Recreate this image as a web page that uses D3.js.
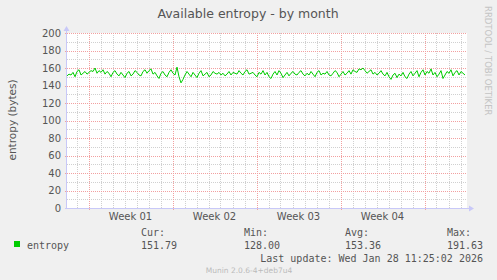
<!DOCTYPE html>
<html>
<head>
<meta charset="utf-8">
<script src="https://cdn.jsdelivr.net/npm/d3@7"></script>
<style>
  body { margin: 0; background: #f0f0f0; }
  svg { display: block; }
  text { font-family: "DejaVu Sans", sans-serif; fill: #555; }
  .mono { font-family: "DejaVu Sans Mono", monospace; font-size: 10px; fill: #555; }
</style>
</head>
<body>
<div id="chart"></div>
<script>
// entropy (bytes), 4 hour averages
var entropy = [
  151,153,152,155,150,156,158,152,154,156,153,155,157,156,160,154,157,155,158,153,
  156,154,150,155,157,153,151,155,152,149,154,156,151,153,157,155,152,151,156,158,
  154,157,159,153,155,151,148,154,156,152,150,155,158,154,152,161,150,143,147,152,
  156,153,150,155,152,149,154,157,151,153,155,150,152,156,154,153,155,152,154,151,
  153,156,152,155,154,153,157,154,152,156,158,153,154,155,152,150,155,153,157,152,
  155,150,148,153,156,152,157,154,149,152,155,151,154,156,153,152,155,157,153,151,
  154,152,156,153,150,155,157,152,154,153,156,152,151,154,157,155,150,153,156,152,
  154,157,153,158,156,155,159,158,160,157,154,156,158,153,155,152,154,157,153,151,
  155,150,147,152,154,149,153,151,155,150,148,153,156,151,154,157,150,155,158,152,
  156,154,159,152,155,150,153,157,148,152,156,154,158,151,155,157,152,156,154,152
];
var weekLabels = ["Week 01", "Week 02", "Week 03", "Week 04"];
var weekStarts = [new Date(2025, 11, 29), new Date(2026, 0, 5), new Date(2026, 0, 12), new Date(2026, 0, 19), new Date(2026, 0, 26)];
var yTicks = [0, 20, 40, 60, 80, 100, 120, 140, 160, 180, 200];
var legendCols = ["Cur:", "Min:", "Avg:", "Max:"];
var legendVals = ["151.79", "128.00", "153.36", "191.63"];

function drawChart() {
  var width = 497, height = 280;
  var pLeft = 67, pRight = 467, pTop = 33, pBottom = 208;

  var tStart = new Date(2025, 11, 27, 5, 0);
  var tEnd = new Date(tStart.getTime() + 400 / 12 * 86400000);
  var times = entropy.map(function(d, i) { return new Date(tStart.getTime() + i * 4 * 3600000); });

  var x = d3.scaleTime().domain([tStart, tEnd]).range([pLeft, pRight]);
  var y = d3.scaleLinear().domain([0, 200]).range([pBottom, pTop]);

  var svg = d3.select("#chart").append("svg")
      .attr("width", width)
      .attr("height", height);

  svg.append("rect").attr("width", width).attr("height", height).attr("fill", "#f0f0f0");
  svg.append("rect")
      .attr("x", pLeft).attr("y", pTop)
      .attr("width", pRight - pLeft).attr("height", pBottom - pTop)
      .attr("fill", "#fff");

  // minor grid
  var days = d3.timeDay.range(d3.timeDay.ceil(tStart), tEnd);
  svg.append("g").selectAll("line").data(days).join("line")
      .attr("x1", function(d) { return Math.round(x(d)) + 0.5; })
      .attr("x2", function(d) { return Math.round(x(d)) + 0.5; })
      .attr("y1", pTop).attr("y2", pBottom)
      .attr("stroke", "#d0d0d0").attr("stroke-dasharray", "1,1");
  svg.append("g").selectAll("line").data(d3.range(10, 200, 20)).join("line")
      .attr("x1", pLeft).attr("x2", pRight)
      .attr("y1", function(d) { return Math.round(y(d)) + 0.5; })
      .attr("y2", function(d) { return Math.round(y(d)) + 0.5; })
      .attr("stroke", "#d0d0d0").attr("stroke-dasharray", "1,1");

  // major grid
  svg.append("g").selectAll("line").data(weekStarts).join("line")
      .attr("x1", function(d) { return Math.round(x(d)) + 0.5; })
      .attr("x2", function(d) { return Math.round(x(d)) + 0.5; })
      .attr("y1", pTop).attr("y2", pBottom + 3)
      .attr("stroke", "#f2a0a0").attr("stroke-dasharray", "1,1");
  svg.append("g").selectAll("line").data(yTicks).join("line")
      .attr("x1", pLeft - 2).attr("x2", pRight)
      .attr("y1", function(d) { return Math.round(y(d)) + 0.5; })
      .attr("y2", function(d) { return Math.round(y(d)) + 0.5; })
      .attr("stroke", "#f2a0a0").attr("stroke-dasharray", "1,1");

  // y labels
  svg.append("g").selectAll("text").data(yTicks).join("text")
      .attr("x", 61).attr("y", function(d) { return y(d) + 3.5; })
      .attr("text-anchor", "end")
      .attr("font-size", 10)
      .text(function(d) { return d; });

  // week labels
  svg.append("g").selectAll("text").data(weekLabels).join("text")
      .attr("x", function(d, i) { return (x(weekStarts[i]) + x(weekStarts[i + 1])) / 2; })
      .attr("y", 220)
      .attr("text-anchor", "middle")
      .attr("font-size", 10)
      .text(function(d) { return d; });

  // data line
  var line = d3.line()
      .x(function(d, i) { return x(times[i]); })
      .y(function(d) { return y(d); });
  svg.append("path")
      .datum(entropy)
      .attr("d", line)
      .attr("fill", "none")
      .attr("stroke", "#00cc00")
      .attr("stroke-width", 1);

  // axes with arrows
  var axisCol = "#c8c8f8";
  svg.append("line").attr("x1", pLeft - 0.5).attr("x2", pLeft - 0.5).attr("y1", pBottom + 1).attr("y2", 29).attr("stroke", axisCol);
  svg.append("path").attr("d", "M" + (pLeft - 3.5) + ",31 L" + (pLeft - 0.5) + ",26 L" + (pLeft + 2.5) + ",31 Z").attr("fill", axisCol);
  svg.append("line").attr("x1", pLeft - 2).attr("x2", pRight + 3).attr("y1", pBottom + 0.5).attr("y2", pBottom + 0.5).attr("stroke", axisCol);
  svg.append("path").attr("d", "M" + (pRight + 2) + "," + (pBottom - 2.5) + " L" + (pRight + 7) + "," + (pBottom + 0.5) + " L" + (pRight + 2) + "," + (pBottom + 3.5) + " Z").attr("fill", axisCol);

  // title
  svg.append("text")
      .attr("x", 248).attr("y", 18)
      .attr("text-anchor", "middle")
      .attr("font-size", 12.5)
      .text("Available entropy - by month");

  // y axis title
  svg.append("text")
      .attr("transform", "translate(16,120) rotate(-90)")
      .attr("text-anchor", "middle")
      .attr("font-size", 10.5)
      .text("entropy (bytes)");

  // watermark
  svg.append("text")
      .attr("transform", "translate(484.5,6) rotate(90)")
      .attr("font-size", 8.5)
      .style("fill", "#c4c4c4")
      .text("RRDTOOL / TOBI OETIKER");

  // legend
  svg.append("rect").attr("x", 14).attr("y", 241).attr("width", 6).attr("height", 6).attr("fill", "#00cc00");
  svg.append("text").attr("class", "mono").attr("x", 27).attr("y", 249).text("entropy");
  var colX = [141, 244, 345, 447];
  svg.append("g").selectAll("text").data(legendCols).join("text")
      .attr("class", "mono")
      .attr("x", function(d, i) { return colX[i]; })
      .attr("y", 236)
      .text(function(d) { return d; });
  svg.append("g").selectAll("text").data(legendVals).join("text")
      .attr("class", "mono")
      .attr("x", function(d, i) { return colX[i]; })
      .attr("y", 249)
      .text(function(d) { return d; });
  svg.append("text").attr("class", "mono")
      .attr("x", 483).attr("y", 262)
      .attr("text-anchor", "end")
      .text("Last update: Wed Jan 28 11:25:02 2026");
  svg.append("text")
      .attr("x", 249).attr("y", 273)
      .attr("text-anchor", "middle")
      .attr("font-size", 7.5)
      .style("fill", "#bbb")
      .text("Munin 2.0.6-4+deb7u4");
}
drawChart();
</script>
</body>
</html>
